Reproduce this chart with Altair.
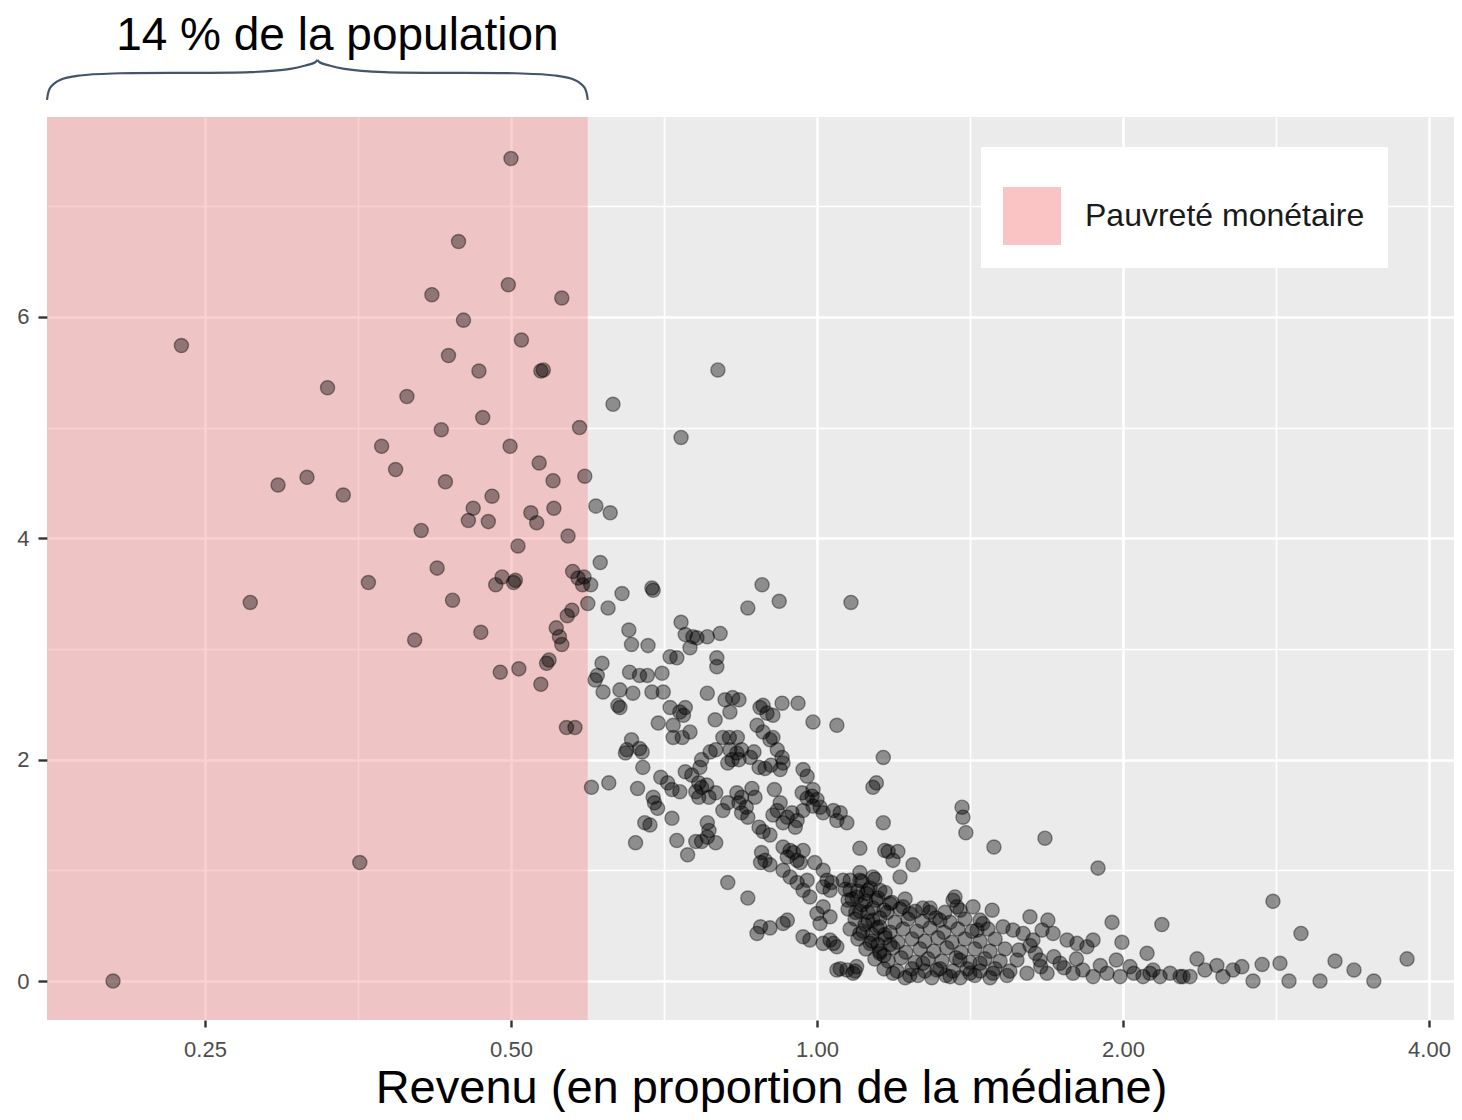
import math
import altair as alt
import pandas as pd

# ---------------- constants / texts ----------------
X_DOMAIN = [0.1748, 4.233]
Y_DOMAIN = [-0.352, 7.805]
POVERTY_LINE = 0.595
X_MAJOR = [0.25, 0.5, 1, 2, 4]
X_MINOR = [0.3536, 0.7071, 1.4142, 2.8284]
Y_TICKS = [0, 1, 2, 3, 4, 5, 6, 7]
LEGEND_LABEL = "Pauvreté monétaire"
ANNOTATION = "14 % de la population"
X_TITLE = "Revenu (en proportion de la médiane)"

# ---------------- data (revenu relatif, valeur) ----------------
POOR = [
    (0.203, 0.00), (0.237, 5.74), (0.277, 3.42), (0.295, 4.48), (0.315, 4.55),
    (0.330, 5.36), (0.342, 4.39), (0.355, 1.07), (0.362, 3.60), (0.373, 4.83),
    (0.385, 4.62), (0.395, 5.28), (0.402, 3.08), (0.408, 4.07), (0.418, 6.20),
    (0.423, 3.73), (0.427, 4.98), (0.431, 4.51), (0.434, 5.65), (0.438, 3.44),
    (0.444, 6.68), (0.449, 5.97), (0.454, 4.16), (0.459, 4.27), (0.465, 5.51),
    (0.467, 3.15), (0.469, 5.09), (0.475, 4.15), (0.479, 4.38), (0.483, 3.58),
    (0.488, 2.79), (0.490, 3.65), (0.497, 6.29), (0.500, 7.43), (0.499, 4.83),
    (0.503, 3.60), (0.505, 3.62), (0.509, 2.82), (0.508, 3.93), (0.512, 5.79),
    (0.523, 4.23), (0.530, 4.14), (0.533, 4.68), (0.535, 5.51), (0.538, 5.52),
    (0.535, 2.68), (0.542, 2.87), (0.545, 2.90), (0.550, 4.52), (0.551, 4.27),
    (0.554, 3.19), (0.558, 3.11), (0.561, 3.04), (0.561, 6.17), (0.568, 3.30),
    (0.569, 4.02), (0.567, 2.29), (0.574, 3.35), (0.578, 2.29), (0.575, 3.70),
    (0.582, 3.64), (0.584, 5.00), (0.588, 3.58), (0.590, 3.65), (0.591, 4.56),
]

UPPER = [
    (0.799, 5.52), (0.630, 5.21), (0.735, 4.91), (0.606, 4.29), (0.626, 4.23),
    (0.612, 3.78), (0.599, 3.58), (0.595, 3.41), (0.623, 3.37), (0.643, 3.50),
    (0.688, 3.55), (0.690, 3.53), (0.883, 3.58), (0.918, 3.43), (0.855, 3.37),
    (1.080, 3.42), (0.653, 3.17), (0.657, 3.04), (0.682, 3.03), (0.735, 3.24),
    (0.742, 3.13), (0.755, 3.11), (0.762, 3.10), (0.780, 3.11), (0.803, 3.14),
    (0.750, 3.01), (0.797, 2.92), (0.797, 2.84), (0.717, 2.93), (0.728, 2.92),
    (0.6145, 2.87), (0.608, 2.76), (0.605, 2.72), (0.654, 2.79), (0.669, 2.76),
    (0.681, 2.76), (0.704, 2.78), (0.780, 2.60), (0.616, 2.61), (0.640, 2.63),
    (0.659, 2.60), (0.688, 2.61), (0.706, 2.61),
]

MIDDLE = [
    (0.637, 2.49), (0.640, 2.47), (0.717, 2.47), (0.733, 2.43), (0.742, 2.47),
    (0.812, 2.54), (0.826, 2.56), (0.838, 2.54), (0.821, 2.43), (0.698, 2.33),
    (0.722, 2.31), (0.739, 2.40), (0.750, 2.25), (0.737, 2.20), (0.722, 2.20),
    (0.794, 2.36), (0.808, 2.20), (0.820, 2.20), (0.835, 2.20), (0.879, 2.47),
    (0.893, 2.42), (0.905, 2.40), (0.885, 2.49), (0.924, 2.51), (0.873, 2.31),
    (0.885, 2.25), (0.958, 2.51), (0.991, 2.34), (1.046, 2.31), (0.905, 2.20),
    (0.657, 2.18), (0.650, 2.09), (0.669, 2.10), (0.673, 2.07), (0.648, 2.06),
    (0.674, 1.93), (0.702, 1.84), (0.713, 1.79), (0.600, 1.75), (0.624, 1.79),
    (0.666, 1.74), (0.690, 1.66), (0.692, 1.61), (0.697, 1.56), (0.720, 1.73),
    (0.733, 1.71), (0.720, 1.47), (0.677, 1.43), (0.685, 1.41), (0.663, 1.25),
    (0.728, 1.27), (0.746, 1.14), (0.742, 1.89), (0.753, 1.86), (0.765, 1.79),
    (0.770, 1.75), (0.779, 1.77), (0.760, 1.71), (0.767, 1.93), (0.770, 2.00),
    (0.785, 2.07), (0.795, 2.09), (0.765, 1.66), (0.783, 1.66), (0.795, 1.70),
    (0.780, 1.43), (0.783, 1.36), (0.795, 1.25), (0.770, 1.26), (0.760, 1.26),
    (0.780, 1.30), (0.808, 1.54), (0.817, 1.61), (0.821, 2.09), (0.834, 2.06),
    (0.825, 2.00), (0.817, 1.97), (0.838, 2.00), (0.843, 2.09), (0.860, 2.02),
    (0.867, 2.07), (0.834, 1.70), (0.843, 1.66), (0.838, 1.61), (0.852, 1.57),
    (0.843, 1.52), (0.855, 1.48), (0.863, 1.74), (0.869, 1.66), (0.877, 1.93),
    (0.889, 1.92), (0.901, 1.95), (0.899, 2.18), (0.914, 2.09), (0.924, 2.02),
    (0.926, 1.97), (0.920, 1.91), (0.908, 1.73), (0.920, 1.61), (0.914, 1.54),
    (0.905, 1.50), (0.877, 1.39), (0.885, 1.35), (0.899, 1.32), (0.926, 1.43),
    (0.935, 1.48), (0.945, 1.52), (0.956, 1.45), (0.952, 1.39), (0.969, 1.54),
    (0.978, 1.65), (0.967, 1.70), (0.969, 1.91), (0.978, 1.85), (0.991, 1.73),
    (0.989, 1.67), (1.000, 1.64), (0.991, 1.58), (1.007, 1.57), (1.014, 1.52),
    (1.038, 1.54), (1.054, 1.52), (1.046, 1.45), (1.070, 1.43), (0.882, 1.16),
    (0.889, 1.09), (0.899, 1.05), (0.880, 1.07), (0.926, 1.21), (0.941, 1.18),
    (0.935, 1.12), (0.948, 1.16), (0.956, 1.09), (0.969, 1.18), (0.963, 1.07),
    (0.926, 1.00), (0.941, 0.94), (0.956, 0.89), (0.969, 0.82), (0.978, 0.91),
    (0.984, 0.76), (0.995, 1.07), (1.014, 1.00), (1.023, 0.91), (1.014, 0.85),
    (1.030, 0.82), (1.034, 0.89), (1.000, 0.61), (1.014, 0.67), (1.030, 0.58),
    (1.007, 0.52), (0.817, 0.89), (0.855, 0.75), (0.873, 0.43), (0.880, 0.49),
    (0.899, 0.48), (0.926, 0.52), (0.935, 0.55), (0.969, 0.40), (0.984, 0.37),
    (1.014, 0.34), (1.030, 0.37), (1.046, 0.31), (1.038, 0.34), (1.046, 0.10),
    (1.070, 0.10), (1.094, 0.13), (1.085, 0.07),
    (1.162, 2.02), (1.135, 1.75), (1.144, 1.79), (1.162, 1.43), (1.166, 1.18),
]

BAND = [
    (1.061, 0.91), (1.078, 0.82), (1.095, 0.76), (1.107, 0.69), (1.122, 0.62),
    (1.135, 0.55), (1.153, 0.49), (1.166, 0.42), (1.180, 0.33), (1.073, 0.73),
    (1.092, 0.62), (1.115, 0.51), (1.133, 0.42), (1.148, 0.33), (1.164, 0.23),
    (1.102, 0.91), (1.122, 0.82), (1.143, 0.73), (1.164, 0.64),
    (1.078, 0.91), (1.107, 0.90), (1.140, 0.92),
    (1.066, 0.83), (1.097, 0.81), (1.128, 0.84), (1.167, 0.80),
    (1.083, 0.74), (1.117, 0.72), (1.148, 0.75), (1.185, 0.71), (1.221, 0.74), (1.367, 0.76),
    (1.073, 0.65), (1.102, 0.63), (1.135, 0.66), (1.172, 0.62), (1.207, 0.65),
    (1.249, 0.63), (1.292, 0.66), (1.336, 0.62), (1.383, 0.64),
    (1.090, 0.56), (1.123, 0.54), (1.153, 0.57), (1.193, 0.53), (1.229, 0.56),
    (1.269, 0.54), (1.309, 0.57), (1.352, 0.53), (1.398, 0.56), (1.447, 0.55),
    (1.078, 0.47), (1.110, 0.45), (1.146, 0.48), (1.180, 0.44), (1.215, 0.47),
    (1.254, 0.45), (1.292, 0.48), (1.333, 0.44), (1.376, 0.47), (1.421, 0.45), (1.473, 0.47),
    (1.097, 0.38), (1.133, 0.36), (1.167, 0.39), (1.201, 0.35), (1.240, 0.38),
    (1.277, 0.36), (1.315, 0.39), (1.358, 0.35), (1.398, 0.38), (1.447, 0.36), (1.497, 0.38),
    (1.117, 0.29), (1.153, 0.27), (1.188, 0.30), (1.223, 0.26), (1.263, 0.29),
    (1.303, 0.27), (1.342, 0.30), (1.386, 0.26), (1.430, 0.29), (1.480, 0.27), (1.531, 0.29),
    (1.140, 0.20), (1.175, 0.18), (1.210, 0.21), (1.249, 0.17), (1.286, 0.20),
    (1.327, 0.18), (1.370, 0.21), (1.414, 0.17), (1.463, 0.20), (1.514, 0.18),
    (1.054, 0.11), (1.090, 0.09), (1.164, 0.11), (1.199, 0.09), (1.240, 0.11),
    (1.277, 0.09), (1.321, 0.11), (1.361, 0.09), (1.405, 0.11), (1.447, 0.09),
    (1.497, 0.11), (1.548, 0.09),
    (1.221, 0.03), (1.257, 0.05), (1.297, 0.03), (1.339, 0.05), (1.383, 0.03),
    (1.430, 0.05), (1.480, 0.03),
]

RIGHT = [
    (1.102, 1.20), (1.175, 1.17), (1.201, 1.17), (1.188, 1.09), (1.207, 0.94),
    (1.243, 1.05), (1.389, 1.57), (1.392, 1.48), (1.401, 1.34), (1.493, 1.21),
    (1.676, 1.29), (1.890, 1.02), (1.102, 0.98), (1.135, 0.94), (1.153, 0.82),
    (1.118, 0.79), (1.180, 0.70), (1.215, 0.67), (1.234, 0.61), (1.271, 0.66),
    (1.291, 0.62), (1.321, 0.55), (1.361, 0.73), (1.373, 0.67), (1.424, 0.67),
    (1.487, 0.64), (1.456, 0.52), (1.437, 0.46), (1.620, 0.58), (1.687, 0.55),
    (1.665, 0.46), (1.951, 0.53), (1.995, 0.35), (2.184, 0.51), (2.112, 0.25),
    (1.869, 0.37), (1.524, 0.49), (1.559, 0.46), (1.595, 0.43), (1.631, 0.37),
    (1.707, 0.43), (1.762, 0.37), (1.802, 0.34), (1.843, 0.31),
    (1.102, 0.43), (1.128, 0.34), (1.153, 0.25), (1.188, 0.07), (1.234, 0.05),
    (1.271, 0.16), (1.312, 0.10), (1.352, 0.04), (1.382, 0.19), (1.414, 0.07),
    (1.447, 0.16), (1.490, 0.07), (1.538, 0.05), (1.573, 0.19), (1.609, 0.07),
    (1.657, 0.19), (1.684, 0.07), (1.734, 0.16), (1.786, 0.07), (1.826, 0.10),
    (1.869, 0.04), (1.929, 0.07), (1.987, 0.04), (2.032, 0.13), (2.093, 0.04),
    (2.141, 0.10), (2.225, 0.07), (2.291, 0.04),
    (1.58, 0.28), (1.64, 0.25), (1.71, 0.22), (1.75, 0.12), (1.80, 0.20),
    (1.66, 0.13), (1.90, 0.14), (1.97, 0.19), (2.05, 0.07), (1.62, 0.32),
]

TAIL = [
    (2.809, 0.72), (2.993, 0.43), (2.365, 0.20), (2.474, 0.14), (2.408, 0.10),
    (2.508, 0.04), (2.566, 0.10), (2.618, 0.13), (2.741, 0.15), (2.854, 0.16),
    (2.126, 0.07), (2.175, 0.04), (2.276, 0.04), (2.328, 0.04), (2.685, 0.00),
    (2.913, 0.00), (3.125, 0.00), (3.233, 0.18), (3.375, 0.10), (3.530, 0.00),
    (3.806, 0.20),
]

# brace shape (fraction of the poverty span, height in data units)
BRACE_U = [0.0, 0.006, 0.024, 0.061, 0.135, 0.376, 0.45, 0.478, 0.496, 0.5]
BRACE_H = [7.96, 8.07, 8.14, 8.18, 8.20, 8.21, 8.24, 8.27, 8.30, 8.32]
ANNOT_Y = 8.41

# ---------------- build tables ----------------
points = pd.DataFrame(POOR + UPPER + MIDDLE + BAND + RIGHT + TAIL,
                      columns=["revenu", "valeur"])

band = pd.DataFrame({
    "x1": [X_DOMAIN[0]], "x2": [POVERTY_LINE],
    "y1": [Y_DOMAIN[0]], "y2": [Y_DOMAIN[1]], "zone": [LEGEND_LABEL],
})

lo, hi = math.log(X_DOMAIN[0]), math.log(POVERTY_LINE)
brace_rows = []
for side, flip in (("g", False), ("d", True)):
    for i, (u, h) in enumerate(zip(BRACE_U, BRACE_H)):
        uu = 1 - u if flip else u
        brace_rows.append({"side": side, "o": i,
                           "bx": math.exp(lo + uu * (hi - lo)), "by": h})
brace = pd.DataFrame(brace_rows)

annot = pd.DataFrame({"tx": [math.exp((lo + hi) / 2)], "ty": [ANNOT_Y], "t": [ANNOTATION]})

# ---------------- scales & axes ----------------
FONT = "Liberation Sans"
xs = alt.Scale(type="log", base=2, domain=X_DOMAIN, nice=False)
ys = alt.Scale(domain=Y_DOMAIN, nice=False, zero=False)

major_x = "abs(log(datum.value)/LN2 - round(log(datum.value)/LN2)) < 0.01"
major_y = "datum.value % 2 == 0"

x_axis = alt.Axis(
    values=sorted(X_MAJOR + X_MINOR),
    labelExpr=f"({major_x}) ? format(datum.value, '.2f') : ''",
    title=X_TITLE, titleFontSize=47, titleFont=FONT, titleFontWeight="normal",
    titleColor="black", titleX=724, titleY=82, titleBaseline="alphabetic",
    titleAlign="center",
    gridWidth={"condition": {"test": major_x, "value": 2.6}, "value": 1.6},
    tickOpacity={"condition": {"test": major_x, "value": 1}, "value": 0},
    labelPadding=12, tickSize=7,
)
y_axis = alt.Axis(
    values=Y_TICKS,
    labelExpr=f"({major_y}) ? format(datum.value, 'd') : ''",
    title=None,
    gridWidth={"condition": {"test": major_y, "value": 2.6}, "value": 1.6},
    tickOpacity={"condition": {"test": major_y, "value": 1}, "value": 0},
    labelPadding=9, tickSize=9,
)

rect = alt.Chart(band).mark_rect(opacity=0.4).encode(
    x=alt.X("x1:Q", scale=xs, axis=x_axis),
    x2="x2:Q",
    y=alt.Y("y1:Q", scale=ys, axis=y_axis),
    y2="y2:Q",
    color=alt.Color("zone:N", scale=alt.Scale(range=["#F58989"]),
                    legend=alt.Legend(
                        title=" ", titleFontSize=14, titlePadding=4,
                        orient="none", legendX=934, legendY=30,
                        padding=22, fillColor="white", strokeColor="white",
                        symbolType="square", symbolSize=3364,
                        symbolStrokeWidth=0, symbolOpacity=0.5,
                        labelFontSize=32, labelFont=FONT, labelColor="#1A1A1A",
                        labelOffset=24, labelLimit=600)),
)

pts = alt.Chart(points).mark_circle(
    size=200, fill="black", fillOpacity=0.4,
    stroke="black", strokeOpacity=0.4, strokeWidth=1.4,
).encode(
    x=alt.X("revenu:Q", scale=xs, axis=x_axis),
    y=alt.Y("valeur:Q", scale=ys, axis=y_axis),
)

brace_layer = alt.Chart(brace).mark_line(
    interpolate="catmull-rom", stroke="#44546A", strokeWidth=2.2, clip=False,
).encode(
    x=alt.X("bx:Q", scale=xs, axis=x_axis),
    y=alt.Y("by:Q", scale=ys, axis=y_axis),
    detail="side:N",
    order="o:Q",
)

text_layer = alt.Chart(annot).mark_text(
    fontSize=46, font=FONT, baseline="alphabetic", align="center",
    dx=20, color="black", clip=False,
).encode(
    x=alt.X("tx:Q", scale=xs, axis=x_axis),
    y=alt.Y("ty:Q", scale=ys, axis=y_axis),
    text="t:N",
)

chart = alt.layer(rect, pts, brace_layer, text_layer).properties(
    width=1407, height=903,
    autosize=alt.AutoSizeParams(type="none"),
    padding={"left": 39, "top": 109, "right": 0, "bottom": 92},
).configure_view(
    fill="#EBEBEB", strokeWidth=0,
).configure_axis(
    domain=False, grid=True, gridColor="white",
    tickColor="#333333", tickWidth=2.4,
    labelColor="#4D4D4D", labelFontSize=22, labelFont=FONT,
)

chart.save("out.html", embed_options={"renderer": "svg", "actions": False})
